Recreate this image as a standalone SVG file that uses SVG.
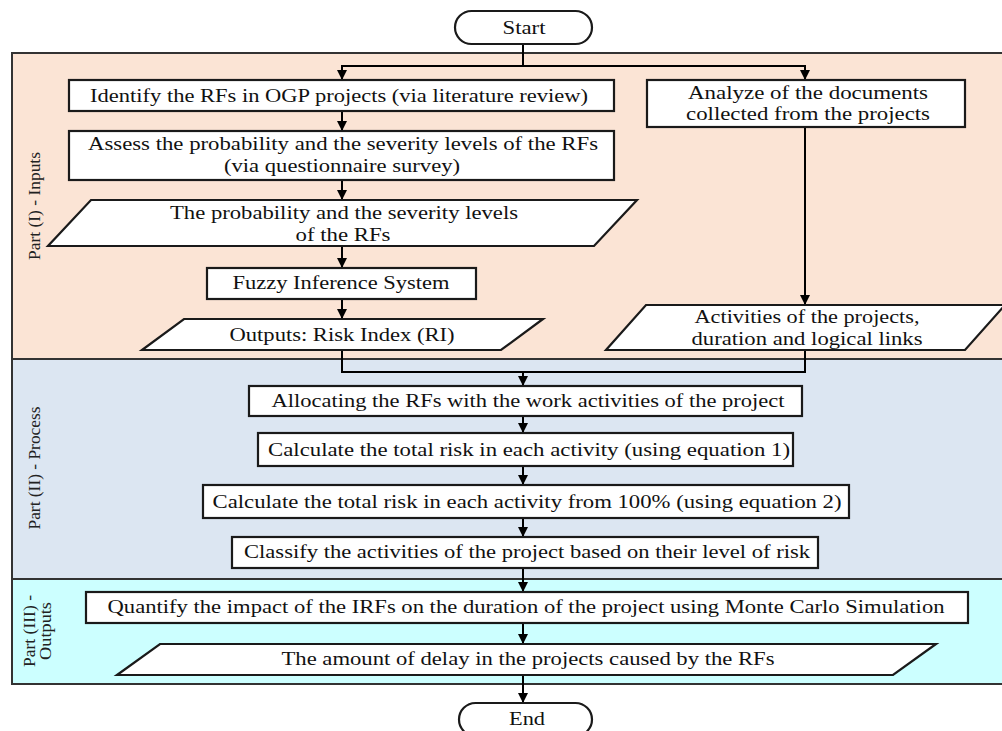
<svg xmlns="http://www.w3.org/2000/svg" width="1002" height="731" viewBox="0 0 1002 731">
<defs>
<marker id="ah" markerWidth="10" markerHeight="10" refX="9" refY="5" orient="auto" markerUnits="userSpaceOnUse">
<path d="M0,0 L10,5 L0,10 Z" fill="#000"/>
</marker>
<style>
.panel{stroke:#333;stroke-width:2}
.box{fill:#fff;stroke:#1a1a1a;stroke-width:2.2}
.t{font-family:"Liberation Serif","Times New Roman",serif;font-size:18px;fill:#111;text-anchor:middle;dominant-baseline:central}
.lab{font-family:"Liberation Serif","Times New Roman",serif;font-size:16px;fill:#222;text-anchor:middle;dominant-baseline:central}
.c{fill:none;stroke:#000;stroke-width:2}
</style>
</defs>
<rect width="1002" height="731" fill="#fff"/>
<g id="panels">
<rect class="panel" x="12" y="53" width="1000" height="306" fill="#FBE4D5"/>
<rect class="panel" x="12" y="359" width="1000" height="220" fill="#DCE6F2"/>
<rect class="panel" x="12" y="579" width="1000" height="105" fill="#CCFFFF"/>
<text class="lab" transform="translate(34,206) rotate(-90)" textLength="108" lengthAdjust="spacingAndGlyphs">Part (I) - Inputs</text>
<text class="lab" transform="translate(34,468) rotate(-90)" textLength="123" lengthAdjust="spacingAndGlyphs">Part (II) - Process</text>
<text class="lab" transform="translate(29,631) rotate(-90)" textLength="72" lengthAdjust="spacingAndGlyphs">Part (III) -</text>
<text class="lab" transform="translate(45,631) rotate(-90)" textLength="58" lengthAdjust="spacingAndGlyphs">Outputs</text>
</g>
<g id="connectors">
<path class="c" d="M523,44 V66 H342 V79" marker-end="url(#ah)"/>
<path class="c" d="M523,66 H805 V79" marker-end="url(#ah)"/>
<path class="c" d="M342,111 V130" marker-end="url(#ah)"/>
<path class="c" d="M342,180 V199" marker-end="url(#ah)"/>
<path class="c" d="M342,246 V267" marker-end="url(#ah)"/>
<path class="c" d="M342,299 V318" marker-end="url(#ah)"/>
<path class="c" d="M805,127 V304" marker-end="url(#ah)"/>
<path class="c" d="M342,350 V372 H805 V350"/>
<path class="c" d="M523,372 V385" marker-end="url(#ah)"/>
<path class="c" d="M523,416 V432" marker-end="url(#ah)"/>
<path class="c" d="M523,466 V484" marker-end="url(#ah)"/>
<path class="c" d="M523,518 V536" marker-end="url(#ah)"/>
<path class="c" d="M523,568 V591" marker-end="url(#ah)"/>
<path class="c" d="M523,623 V643" marker-end="url(#ah)"/>
<path class="c" d="M523,675 V702" marker-end="url(#ah)"/>
</g>
<g id="start">
<rect class="box" x="455" y="11" width="137" height="33" rx="16.5"/>
<text class="t" x="524" y="28" textLength="43" lengthAdjust="spacingAndGlyphs">Start</text>
</g>
<g id="identify">
<rect class="box" x="69" y="80" width="545" height="31"/>
<text class="t" x="339" y="96" textLength="498" lengthAdjust="spacingAndGlyphs">Identify the RFs in OGP projects (via literature review)</text>
</g>
<g id="assess">
<rect class="box" x="69" y="131" width="545" height="49"/>
<text class="t" x="343" y="144" textLength="510" lengthAdjust="spacingAndGlyphs">Assess the probability and the severity levels of the RFs</text>
<text class="t" x="342" y="166" textLength="236" lengthAdjust="spacingAndGlyphs">(via questionnaire survey)</text>
</g>
<g id="probability">
<polygon class="box" points="91,200 637,200 594,246 48,246"/>
<text class="t" x="344" y="213" textLength="348" lengthAdjust="spacingAndGlyphs">The probability and the severity levels</text>
<text class="t" x="343" y="235" textLength="95" lengthAdjust="spacingAndGlyphs">of the RFs</text>
</g>
<g id="fuzzy">
<rect class="box" x="207" y="268" width="269" height="31"/>
<text class="t" x="341" y="283" textLength="217" lengthAdjust="spacingAndGlyphs">Fuzzy Inference System</text>
</g>
<g id="outputs-ri">
<polygon class="box" points="184,319 543,319 501,350 142,350"/>
<text class="t" x="342" y="335" textLength="225" lengthAdjust="spacingAndGlyphs">Outputs: Risk Index (RI)</text>
</g>
<g id="analyze">
<rect class="box" x="647" y="80" width="318" height="47"/>
<text class="t" x="808" y="93" textLength="240" lengthAdjust="spacingAndGlyphs">Analyze of the documents</text>
<text class="t" x="808" y="114" textLength="244" lengthAdjust="spacingAndGlyphs">collected from  the projects</text>
</g>
<g id="activities">
<polygon class="box" points="646,305 1005,305 965,350 606,350"/>
<text class="t" x="807" y="317" textLength="225" lengthAdjust="spacingAndGlyphs">Activities of the projects,</text>
<text class="t" x="807" y="339" textLength="231" lengthAdjust="spacingAndGlyphs">duration and logical links</text>
</g>
<g id="allocating">
<rect class="box" x="249" y="386" width="553" height="30"/>
<text class="t" x="528" y="401" textLength="513" lengthAdjust="spacingAndGlyphs">Allocating the RFs with the work activities of the project</text>
</g>
<g id="calc1">
<rect class="box" x="258" y="433" width="535" height="33"/>
<text class="t" x="529" y="450" textLength="522" lengthAdjust="spacingAndGlyphs">Calculate the total risk in each activity (using equation 1)</text>
</g>
<g id="calc2">
<rect class="box" x="203" y="485" width="646" height="33"/>
<text class="t" x="527" y="502" textLength="629" lengthAdjust="spacingAndGlyphs">Calculate the total risk in each activity from  100%  (using equation 2)</text>
</g>
<g id="classify">
<rect class="box" x="232" y="537" width="586" height="31"/>
<text class="t" x="527" y="552" textLength="566" lengthAdjust="spacingAndGlyphs">Classify the activities of the project based on their level of risk</text>
</g>
<g id="quantify">
<rect class="box" x="86" y="592" width="882" height="31"/>
<text class="t" x="526" y="607" textLength="837" lengthAdjust="spacingAndGlyphs">Quantify the impact of the IRFs on the duration of the project using Monte Carlo Simulation</text>
</g>
<g id="delay">
<polygon class="box" points="160,644 936,644 893,675 117,675"/>
<text class="t" x="528" y="659" textLength="493" lengthAdjust="spacingAndGlyphs">The amount of delay in the projects caused by the RFs</text>
</g>
<g id="end">
<rect class="box" x="459" y="703" width="133" height="33" rx="16.5"/>
<text class="t" x="527" y="719" textLength="36" lengthAdjust="spacingAndGlyphs">End</text>
</g>
</svg>
